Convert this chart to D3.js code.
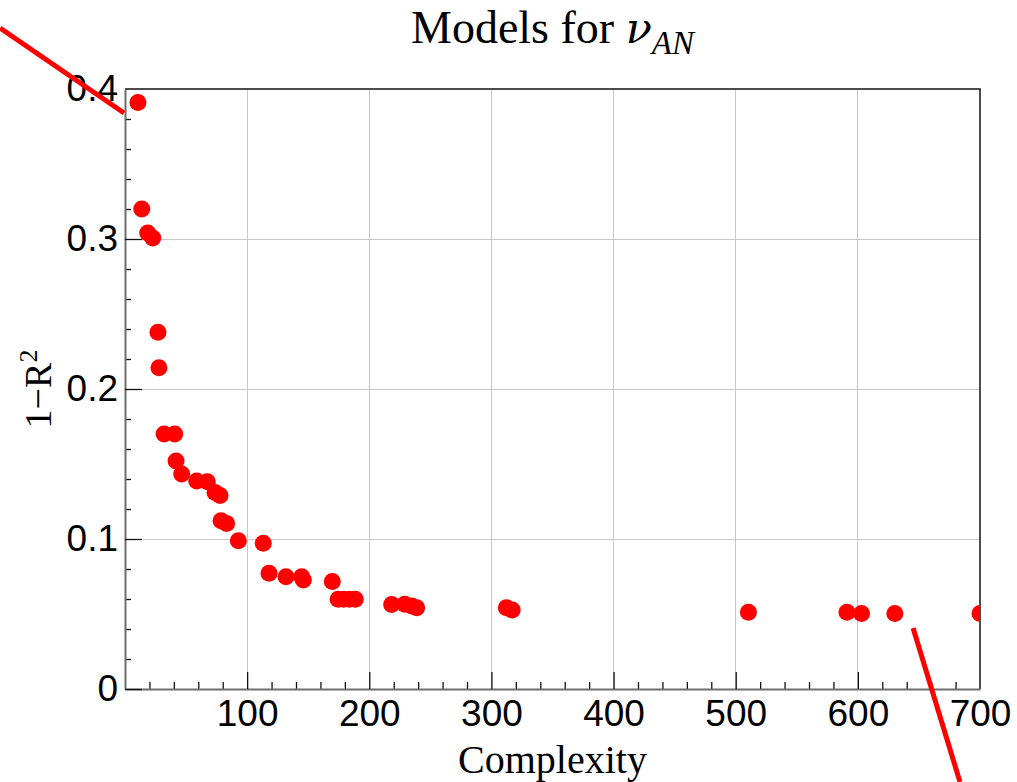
<!DOCTYPE html>
<html>
<head>
<meta charset="utf-8">
<script src="https://cdn.jsdelivr.net/npm/d3@7"></script>
<style>
  html, body { margin: 0; padding: 0; background: #fff; }
  svg { display: block; }
</style>
</head>
<body>
<svg id="chart" width="1017" height="782"></svg>
<script>
// Model complexity vs. unexplained variance (1 - R^2)
const complexity = [10.6, 13.7, 18.6, 22.7, 27.0, 27.8, 32.0, 40.7, 41.8, 46.4,
  58.7, 67.4, 73.7, 77.8, 78.6, 83.2, 92.8, 113.2, 117.9, 131.8,
  144.7, 146.0, 169.7, 174.5, 179.0, 184.0, 188.5, 218.3, 229.0, 234.7,
  238.8, 312.2, 317.0, 510.4, 591.1, 603.0, 630.3, 700.0];
const oneMinusR2 = [0.391, 0.320, 0.304, 0.3007, 0.2378, 0.2142, 0.170, 0.170, 0.152, 0.1433,
  0.1387, 0.1382, 0.131, 0.129, 0.1122, 0.1104, 0.0989, 0.0971, 0.0771, 0.0749,
  0.0749, 0.0727, 0.0716, 0.0598, 0.0598, 0.0598, 0.0598, 0.0563, 0.0565, 0.0553,
  0.0542, 0.0542, 0.0527, 0.0511, 0.0511, 0.0504, 0.0504, 0.0504];

const xMajorTicks = [100, 200, 300, 400, 500, 600, 700];
const yMajorTicks = [0, 0.1, 0.2, 0.3, 0.4];
const xMinorTicks = d3.range(0, 701, 20).filter(v => v % 100 !== 0);
const yMinorTicks = d3.range(0, 0.401, 0.02).filter(v => Math.abs(v * 10 - Math.round(v * 10)) > 1e-6);

// Callout strokes, in data coordinates (x: complexity, y: 1-R^2)
const callouts = [
  [[-102.3, 0.4407], [-0.8, 0.384]],
  [[645.2, 0.0407], [683.6, -0.062]]
];

const plot = { left: 125, right: 980, top: 89, bottom: 689 };
const svg = d3.select("#chart");

const x = d3.scaleLinear().domain([0, 700]).range([plot.left, plot.right]);
const y = d3.scaleLinear().domain([0, 0.4]).range([plot.bottom, plot.top]);

// grid lines
const grid = svg.append("g").attr("stroke", "#c8c8c8").attr("stroke-width", 1)
  .attr("shape-rendering", "crispEdges");
grid.selectAll("line.gx").data(xMajorTicks.filter(v => v < 700)).join("line")
  .attr("x1", d => x(d)).attr("x2", d => x(d))
  .attr("y1", plot.top).attr("y2", plot.bottom);
grid.selectAll("line.gy").data(yMajorTicks.filter(v => v > 0 && v < 0.4)).join("line")
  .attr("x1", plot.left).attr("x2", plot.right)
  .attr("y1", d => y(d)).attr("y2", d => y(d));

// top and right frame
svg.append("path")
  .attr("d", `M${plot.left},${plot.top}H${plot.right}V${plot.bottom}`)
  .attr("fill", "none").attr("stroke", "#111").attr("stroke-width", 1.5);

// points, clipped to the frame
svg.append("clipPath").attr("id", "plotClip").append("rect")
  .attr("x", plot.left).attr("y", plot.top - 20)
  .attr("width", plot.right - plot.left).attr("height", plot.bottom - plot.top + 20);

svg.append("g").attr("clip-path", "url(#plotClip)")
  .selectAll("circle").data(complexity.map((c, i) => [c, oneMinusR2[i]])).join("circle")
  .attr("cx", d => x(d[0])).attr("cy", d => y(d[1])).attr("r", 8.5)
  .attr("fill", "#ff0000");

// axes
const tickFont = "'Liberation Sans', Arial, Helvetica, sans-serif";

const gxMinor = svg.append("g").attr("transform", `translate(0,${plot.bottom})`)
  .call(d3.axisBottom(x).tickValues(xMinorTicks).tickSize(-7).tickSizeOuter(0).tickFormat(""));
gxMinor.select(".domain").remove();

const gx = svg.append("g").attr("transform", `translate(0,${plot.bottom})`)
  .call(d3.axisBottom(x).tickValues(xMajorTicks).tickSize(-17).tickSizeOuter(0).tickPadding(11)
    .tickFormat(d3.format("d")));

const gyMinor = svg.append("g").attr("transform", `translate(${plot.left},0)`)
  .call(d3.axisLeft(y).tickValues(yMinorTicks).tickSize(-6).tickSizeOuter(0).tickFormat(""));
gyMinor.select(".domain").remove();

const gy = svg.append("g").attr("transform", `translate(${plot.left},0)`)
  .call(d3.axisLeft(y).tickValues(yMajorTicks).tickSize(-17).tickSizeOuter(0).tickPadding(7)
    .tickFormat(d => d === 0 ? "0" : d3.format(".1f")(d)));

[gx, gy, gxMinor, gyMinor].forEach(g => {
  g.selectAll(".tick line").attr("stroke", "#111").attr("stroke-width", 1.3);
  g.selectAll(".tick text").attr("fill", "#000").style("font-family", tickFont).style("font-size", "37px");
});
gx.selectAll(".tick").filter(d => d === 700).select("line").remove();
gy.selectAll(".tick").filter(d => d === 0.4).select("line").remove();
[gx, gy].forEach(g => g.select(".domain").attr("stroke", "#6e6e6e").attr("stroke-width", 2));

// titles
const serif = "'Liberation Serif', 'Times New Roman', Times, serif";

const title = svg.append("text")
  .attr("x", (plot.left + plot.right) / 2).attr("y", 43)
  .attr("text-anchor", "middle")
  .style("font-family", serif).style("font-size", "46px").attr("fill", "#000");
title.append("tspan").text("Models for ");
title.append("tspan").style("font-style", "italic").style("font-family", "'DejaVu Serif', serif")
  .style("font-size", "43px").text("ν");
title.append("tspan").attr("dy", 11).style("font-style", "italic").style("font-size", "33px").text("AN");

svg.append("text")
  .attr("x", (plot.left + plot.right) / 2).attr("y", 773)
  .attr("text-anchor", "middle")
  .style("font-family", serif).style("font-size", "40px").attr("fill", "#000")
  .text("Complexity");

const ylab = svg.append("text")
  .attr("transform", `translate(51,${(plot.top + plot.bottom) / 2}) rotate(-90)`)
  .attr("text-anchor", "middle")
  .style("font-family", serif).style("font-size", "38px").attr("fill", "#000");
ylab.append("tspan").text("1\u2212R");
ylab.append("tspan").attr("dy", -14).style("font-size", "26px").text("2");

// red callout strokes
svg.append("g").selectAll("line").data(callouts).join("line")
  .attr("x1", d => x(d[0][0])).attr("y1", d => y(d[0][1]))
  .attr("x2", d => x(d[1][0])).attr("y2", d => y(d[1][1]))
  .attr("stroke", "#ff0000").attr("stroke-width", 5);
</script>
</body>
</html>
